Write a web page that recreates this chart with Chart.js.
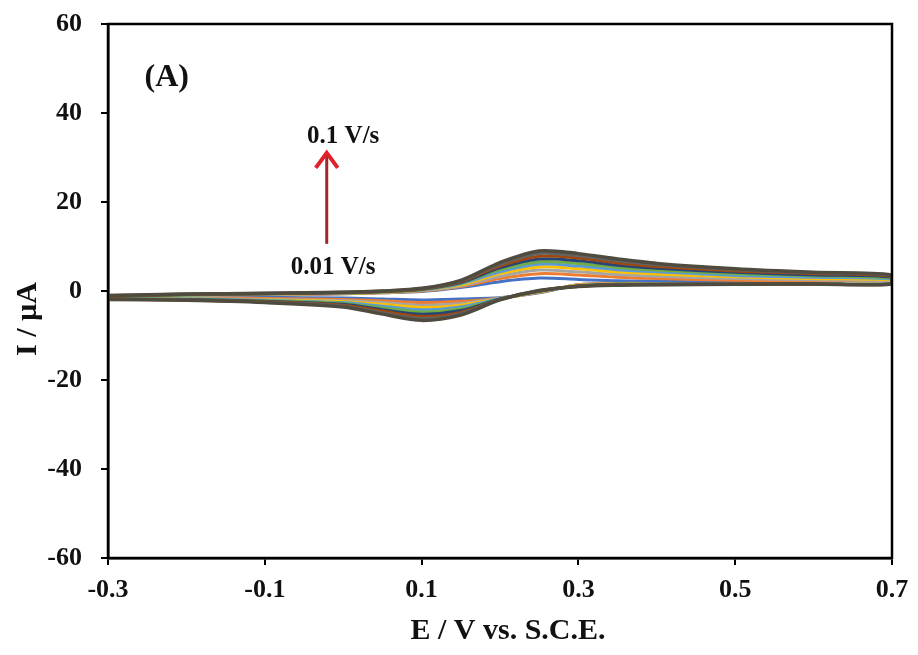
<!DOCTYPE html>
<html>
<head>
<meta charset="utf-8">
<script src="https://cdn.jsdelivr.net/npm/chart.js@4.4.0/dist/chart.umd.min.js"></script>
<style>
  html, body { margin: 0; padding: 0; background: #fff; }
</style>
</head>
<body>
<canvas id="cvChart" width="918" height="655"></canvas>
<script>
// potential (V vs SCE): forward sweep -0.3 -> 0.7, then reverse sweep 0.7 -> -0.3
const potential = [-0.3, -0.2, -0.1, 0.0, 0.05, 0.1, 0.15, 0.2, 0.25, 0.3, 0.35, 0.4, 0.5, 0.6, 0.7,
  0.7, 0.6, 0.5, 0.4, 0.35, 0.3, 0.25, 0.2, 0.15, 0.1, 0.05, 0.0, -0.1, -0.2, -0.3];

const scanRates = ['0.01', '0.02', '0.03', '0.04', '0.05', '0.06', '0.07', '0.08', '0.09', '0.1'];

// current (µA) for each scan rate, same order as potential
const current001 = [-1.3, -1.1, -0.9, -0.6, -0.4, -0.1, 0.8, 2.1, 2.9, 2.6, 2.3, 2.2, 2.0, 1.9, 1.9,
  1.7, 1.7, 1.7, 1.7, 1.7, 1.4, -0.4, -1.5, -1.8, -2.0, -1.8, -1.6, -1.5, -1.4, -1.4];
const current002 = [-1.3, -1.0, -0.8, -0.6, -0.4, 0.0, 1.0, 2.8, 3.9, 3.6, 3.1, 2.8, 2.4, 2.2, 2.1,
  1.7, 1.7, 1.7, 1.7, 1.7, 1.4, -0.3, -1.6, -2.3, -2.6, -2.2, -1.9, -1.7, -1.6, -1.5];
const current003 = [-1.2, -1.0, -0.8, -0.5, -0.3, 0.1, 1.2, 3.3, 4.7, 4.3, 3.7, 3.3, 2.8, 2.5, 2.3,
  1.7, 1.7, 1.7, 1.6, 1.6, 1.3, -0.2, -1.6, -2.8, -3.2, -2.6, -2.2, -1.9, -1.7, -1.6];
const current004 = [-1.2, -0.9, -0.7, -0.5, -0.3, 0.2, 1.4, 3.9, 5.4, 5.0, 4.3, 3.8, 3.2, 2.8, 2.5,
  1.7, 1.7, 1.6, 1.6, 1.6, 1.3, -0.2, -1.7, -3.2, -3.7, -3.0, -2.4, -2.0, -1.8, -1.6];
const current005 = [-1.2, -0.9, -0.7, -0.4, -0.2, 0.2, 1.6, 4.3, 6.0, 5.6, 4.8, 4.3, 3.5, 3.1, 2.7,
  1.7, 1.7, 1.6, 1.6, 1.5, 1.2, -0.1, -1.7, -3.6, -4.2, -3.4, -2.6, -2.1, -1.8, -1.7];
const current006 = [-1.1, -0.9, -0.6, -0.4, -0.2, 0.3, 1.8, 4.8, 6.6, 6.2, 5.3, 4.7, 3.9, 3.4, 2.9,
  1.6, 1.6, 1.6, 1.5, 1.5, 1.2, -0.1, -1.8, -4.0, -4.7, -3.8, -2.8, -2.2, -1.9, -1.7];
const current007 = [-1.1, -0.8, -0.6, -0.4, -0.1, 0.4, 1.9, 5.2, 7.2, 6.8, 5.8, 5.1, 4.2, 3.6, 3.1,
  1.6, 1.6, 1.6, 1.5, 1.5, 1.1, 0.0, -1.8, -4.4, -5.2, -4.2, -3.0, -2.3, -1.9, -1.8];
const current008 = [-1.1, -0.8, -0.6, -0.3, -0.1, 0.4, 2.1, 5.6, 7.8, 7.4, 6.3, 5.5, 4.5, 3.9, 3.3,
  1.6, 1.6, 1.5, 1.5, 1.4, 1.1, 0.0, -1.9, -4.8, -5.7, -4.5, -3.2, -2.4, -2.0, -1.8];
const current009 = [-1.0, -0.7, -0.5, -0.3, 0.0, 0.5, 2.3, 6.0, 8.4, 7.9, 6.8, 5.9, 4.8, 4.1, 3.5,
  1.6, 1.6, 1.5, 1.4, 1.4, 1.0, 0.1, -1.9, -5.1, -6.2, -4.9, -3.4, -2.5, -2.0, -1.9];
const current010 = [-1.0, -0.7, -0.5, -0.3, 0.0, 0.6, 2.4, 6.4, 9.0, 8.4, 7.2, 6.2, 5.0, 4.2, 3.6,
  1.6, 1.6, 1.5, 1.4, 1.3, 1.0, 0.1, -2.0, -5.4, -6.6, -5.2, -3.6, -2.6, -2.1, -1.9];

const currents = [current001, current002, current003, current004, current005,
  current006, current007, current008, current009, current010];

const lineColors = ['#4472C4', '#ED7D31', '#A5A5A5', '#FFC000', '#5B9BD5',
  '#70AD47', '#264478', '#9E480E', '#636363', '#4F4B3F'];

const xTicks = [-0.3, -0.1, 0.1, 0.3, 0.5, 0.7];
const yTicks = [-60, -40, -20, 0, 20, 40, 60];

const FONT = "'Liberation Serif', 'Times New Roman', serif";

const datasets = currents.map((cur, i) => ({
  label: scanRates[i] + ' V/s',
  data: potential.map((e, k) => ({ x: e, y: cur[k] })),
  borderColor: lineColors[i],
  borderWidth: i === currents.length - 1 ? 3.5 : 3,
  pointRadius: 0,
  showLine: true,
  fill: false,
  tension: 0.3,
  order: currents.length - i,
}));

// frame, panel label, scan-rate arrow and axis titles
const decorPlugin = {
  id: 'decor',
  afterDraw(chart) {
    const ctx = chart.ctx;
    const area = chart.chartArea;
    const xs = chart.scales.x;
    const ys = chart.scales.y;
    ctx.save();

    ctx.strokeStyle = '#000';
    ctx.lineWidth = 2.5;
    ctx.strokeRect(area.left, area.top, area.right - area.left, area.bottom - area.top);

    ctx.fillStyle = '#111';
    ctx.textAlign = 'center';
    ctx.textBaseline = 'middle';
    ctx.font = 'bold 32px ' + FONT;
    ctx.fillText('(A)', xs.getPixelForValue(-0.225), ys.getPixelForValue(48));

    ctx.font = 'bold 25px ' + FONT;
    ctx.fillText('0.1 V/s', xs.getPixelForValue(0.0), ys.getPixelForValue(34.6));
    ctx.fillText('0.01 V/s', xs.getPixelForValue(-0.013), ys.getPixelForValue(5.2));

    // arrow
    const ax = xs.getPixelForValue(-0.021);
    const aBottom = ys.getPixelForValue(10.6);
    const aTip = ys.getPixelForValue(31.5);
    ctx.strokeStyle = '#A3262C';
    ctx.lineWidth = 3;
    ctx.beginPath();
    ctx.moveTo(ax, aBottom);
    ctx.lineTo(ax, aTip + 4);
    ctx.stroke();
    ctx.strokeStyle = '#E0202A';
    ctx.lineWidth = 4;
    ctx.lineJoin = 'miter';
    ctx.beginPath();
    ctx.moveTo(ax - 11, aTip + 17);
    ctx.lineTo(ax, aTip + 2);
    ctx.lineTo(ax + 11, aTip + 17);
    ctx.stroke();

    // axis titles
    ctx.fillStyle = '#111';
    ctx.font = 'bold 30px ' + FONT;
    ctx.fillText('E / V vs. S.C.E.', 508, 631);
    ctx.translate(28, 319);
    ctx.rotate(-Math.PI / 2);
    ctx.fillText('I / µA', 0, 0);
    ctx.restore();
  },
};

new Chart(document.getElementById('cvChart').getContext('2d'), {
  type: 'scatter',
  data: { datasets: datasets },
  options: {
    responsive: false,
    animation: false,
    layout: { padding: { top: 24, right: 26, left: 0, bottom: 0 } },
    plugins: {
      legend: { display: false },
      tooltip: { enabled: false },
    },
    scales: {
      x: {
        type: 'linear',
        min: -0.3,
        max: 0.7,
        afterBuildTicks: (axis) => { axis.ticks = xTicks.map((v) => ({ value: v })); },
        afterFit: (axis) => {
          axis.height = 97;
          axis.paddingLeft = 0;
          axis.paddingRight = 0;
        },
        ticks: {
          padding: 10,
          color: '#111',
          font: { family: FONT, size: 26, weight: 'bold' },
          callback: (v) => v.toFixed(1),
        },
        grid: { drawOnChartArea: false, drawTicks: true, tickLength: 7, color: '#000', lineWidth: 2 },
        border: { display: true, color: '#000', width: 2.5 },
      },
      y: {
        type: 'linear',
        min: -60,
        max: 60,
        afterBuildTicks: (axis) => { axis.ticks = yTicks.map((v) => ({ value: v })); },
        afterFit: (axis) => {
          axis.width = 108;
          axis.paddingTop = 0;
          axis.paddingBottom = 0;
        },
        ticks: {
          padding: 19,
          color: '#111',
          font: { family: FONT, size: 26, weight: 'bold' },
        },
        grid: { drawOnChartArea: false, drawTicks: true, tickLength: 7, color: '#000', lineWidth: 2 },
        border: { display: true, color: '#000', width: 2.5 },
      },
    },
  },
  plugins: [decorPlugin],
});
</script>
</body>
</html>
